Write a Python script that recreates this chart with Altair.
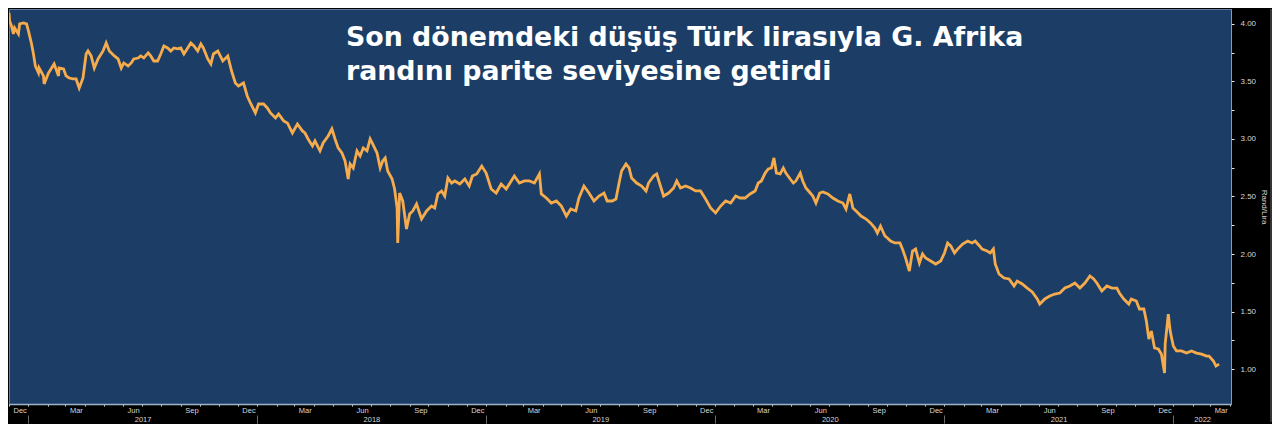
import altair as alt
import pandas as pd

dates = [
    "2016-12-01", "2016-12-02", "2016-12-05", "2016-12-08", "2016-12-10", "2016-12-16", "2016-12-18",
    "2016-12-24", "2016-12-29", "2017-01-01", "2017-01-06", "2017-01-09", "2017-01-12", "2017-01-17",
    "2017-01-18", "2017-01-25", "2017-01-26", "2017-02-02", "2017-02-06", "2017-02-11", "2017-02-18",
    "2017-02-19", "2017-02-26", "2017-03-02", "2017-03-07", "2017-03-13", "2017-03-18", "2017-03-23",
    "2017-03-29", "2017-04-03", "2017-04-06", "2017-04-11", "2017-04-16", "2017-04-22", "2017-04-30",
    "2017-05-05", "2017-05-10", "2017-05-18", "2017-05-24", "2017-05-29", "2017-06-02", "2017-06-09",
    "2017-06-14", "2017-06-18", "2017-06-25", "2017-06-29", "2017-07-04", "2017-07-11", "2017-07-15",
    "2017-07-20", "2017-07-26", "2017-07-31", "2017-08-05", "2017-08-11", "2017-08-16", "2017-08-21",
    "2017-08-27", "2017-09-01", "2017-09-06", "2017-09-12", "2017-09-17", "2017-09-22", "2017-09-28",
    "2017-10-03", "2017-10-07", "2017-10-14", "2017-10-19", "2017-10-23", "2017-10-30", "2017-11-07",
    "2017-11-15", "2017-11-21", "2017-11-27", "2017-12-02", "2017-12-10", "2017-12-16", "2017-12-21",
    "2017-12-29", "2018-01-03", "2018-01-11", "2018-01-17", "2018-01-22", "2018-01-30", "2018-02-04",
    "2018-02-12", "2018-02-18", "2018-02-26", "2018-03-06", "2018-03-14", "2018-03-18", "2018-03-23",
    "2018-03-30", "2018-04-03", "2018-04-11", "2018-04-16", "2018-04-24", "2018-04-30", "2018-05-05",
    "2018-05-10", "2018-05-16", "2018-05-21", "2018-05-26", "2018-05-29", "2018-06-03", "2018-06-09",
    "2018-06-14", "2018-06-19", "2018-06-25", "2018-06-30", "2018-07-04", "2018-07-11", "2018-07-16",
    "2018-07-20", "2018-07-24", "2018-07-28", "2018-08-04", "2018-08-08", "2018-08-12", "2018-08-13",
    "2018-08-16", "2018-08-21", "2018-08-27", "2018-09-01", "2018-09-06", "2018-09-12", "2018-09-20",
    "2018-09-28", "2018-10-06", "2018-10-11", "2018-10-16", "2018-10-22", "2018-10-27", "2018-11-01",
    "2018-11-07", "2018-11-12", "2018-11-20", "2018-11-28", "2018-12-05", "2018-12-10", "2018-12-17",
    "2018-12-25", "2019-01-01", "2019-01-09", "2019-01-17", "2019-01-25", "2019-02-02", "2019-02-10",
    "2019-02-15", "2019-02-23", "2019-03-03", "2019-03-11", "2019-03-19", "2019-03-27", "2019-03-30",
    "2019-04-07", "2019-04-15", "2019-04-23", "2019-05-01", "2019-05-09", "2019-05-16", "2019-05-24",
    "2019-05-29", "2019-06-06", "2019-06-14", "2019-06-22", "2019-06-30", "2019-07-08", "2019-07-13",
    "2019-07-21", "2019-07-27", "2019-08-01", "2019-08-05", "2019-08-12", "2019-08-17", "2019-08-21",
    "2019-08-29", "2019-09-06", "2019-09-13", "2019-09-17", "2019-09-25", "2019-09-30", "2019-10-06",
    "2019-10-11", "2019-10-19", "2019-10-27", "2019-11-01", "2019-11-07", "2019-11-15", "2019-11-23",
    "2019-12-01", "2019-12-09", "2019-12-17", "2019-12-25", "2020-01-02", "2020-01-10", "2020-01-18",
    "2020-01-26", "2020-02-03", "2020-02-10", "2020-02-18", "2020-02-26", "2020-03-05", "2020-03-10",
    "2020-03-15", "2020-03-21", "2020-03-26", "2020-03-31", "2020-04-04", "2020-04-08", "2020-04-14",
    "2020-04-19", "2020-04-23", "2020-04-30", "2020-05-05", "2020-05-09", "2020-05-16", "2020-05-20",
    "2020-05-25", "2020-06-01", "2020-06-05", "2020-06-10", "2020-06-16", "2020-06-21", "2020-06-29",
    "2020-07-07", "2020-07-15", "2020-07-23", "2020-07-28", "2020-08-03", "2020-08-08", "2020-08-13",
    "2020-08-21", "2020-08-29", "2020-09-05", "2020-09-12", "2020-09-16", "2020-09-21", "2020-09-28",
    "2020-10-02", "2020-10-07", "2020-10-14", "2020-10-22", "2020-10-26", "2020-10-31", "2020-11-06",
    "2020-11-11", "2020-11-16", "2020-11-22", "2020-11-27", "2020-12-02", "2020-12-10", "2020-12-18",
    "2020-12-26", "2021-01-01", "2021-01-06", "2021-01-11", "2021-01-17", "2021-01-22", "2021-01-30",
    "2021-02-07", "2021-02-14", "2021-02-19", "2021-02-26", "2021-03-02", "2021-03-10", "2021-03-15",
    "2021-03-20", "2021-03-23", "2021-03-29", "2021-04-06", "2021-04-14", "2021-04-22", "2021-04-27",
    "2021-05-05", "2021-05-13", "2021-05-21", "2021-05-29", "2021-06-02", "2021-06-10", "2021-06-18",
    "2021-06-26", "2021-07-04", "2021-07-12", "2021-07-20", "2021-07-28", "2021-08-05", "2021-08-13",
    "2021-08-21", "2021-08-27", "2021-09-01", "2021-09-09", "2021-09-17", "2021-09-25", "2021-10-03",
    "2021-10-07", "2021-10-14", "2021-10-22", "2021-10-26", "2021-11-03", "2021-11-08", "2021-11-15",
    "2021-11-19", "2021-11-23", "2021-11-27", "2021-12-02", "2021-12-08", "2021-12-13", "2021-12-18",
    "2021-12-19", "2021-12-24", "2021-12-27", "2022-01-01", "2022-01-06", "2022-01-14", "2022-01-22",
    "2022-01-30", "2022-02-07", "2022-02-15", "2022-02-23", "2022-02-27", "2022-03-06", "2022-03-10",
    "2022-03-15",
]

values = [
    4.096, 4.026, 3.983, 3.913, 3.965, 3.913, 4.000,
    4.009, 4.000, 3.939, 3.826, 3.739, 3.635, 3.574,
    3.617, 3.548, 3.478, 3.574, 3.609, 3.652, 3.548,
    3.617, 3.609, 3.548, 3.530, 3.522, 3.522, 3.443,
    3.530, 3.739, 3.765, 3.722, 3.617, 3.696, 3.765,
    3.835, 3.765, 3.722, 3.696, 3.617, 3.661, 3.635,
    3.661, 3.696, 3.704, 3.722, 3.704, 3.748, 3.722,
    3.678, 3.678, 3.739, 3.809, 3.791, 3.765, 3.791,
    3.783, 3.791, 3.739, 3.791, 3.835, 3.809, 3.765,
    3.826, 3.791, 3.696, 3.652, 3.739, 3.765, 3.678,
    3.722, 3.591, 3.487, 3.461, 3.487, 3.374, 3.313,
    3.226, 3.304, 3.304, 3.270, 3.226, 3.183, 3.217,
    3.157, 3.139, 3.052, 3.130, 3.070, 3.052, 3.000,
    2.939, 2.983, 2.896, 2.965, 3.026, 3.087, 3.000,
    2.922, 2.878, 2.809, 2.652, 2.783, 2.748, 2.896,
    2.852, 2.922, 2.896, 3.000, 2.957, 2.878, 2.748,
    2.809, 2.835, 2.722, 2.652, 2.565, 2.400, 2.096,
    2.530, 2.461, 2.217, 2.348, 2.374, 2.435, 2.304,
    2.374, 2.417, 2.400, 2.522, 2.548, 2.504, 2.661,
    2.617, 2.635, 2.609, 2.652, 2.591, 2.678, 2.696,
    2.765, 2.704, 2.565, 2.530, 2.609, 2.565, 2.635,
    2.678, 2.617, 2.635, 2.635, 2.617, 2.696, 2.522,
    2.487, 2.443, 2.461, 2.417, 2.330, 2.391, 2.374,
    2.487, 2.591, 2.530, 2.461, 2.504, 2.530, 2.461,
    2.461, 2.478, 2.617, 2.722, 2.783, 2.748, 2.661,
    2.617, 2.591, 2.548, 2.617, 2.678, 2.696, 2.591,
    2.504, 2.530, 2.574, 2.635, 2.574, 2.591, 2.574,
    2.548, 2.548, 2.478, 2.400, 2.357, 2.417, 2.461,
    2.443, 2.504, 2.487, 2.487, 2.522, 2.548, 2.617,
    2.635, 2.704, 2.739, 2.748, 2.835, 2.704, 2.696,
    2.748, 2.704, 2.652, 2.617, 2.635, 2.704, 2.635,
    2.574, 2.530, 2.504, 2.443, 2.530, 2.539, 2.522,
    2.487, 2.461, 2.443, 2.391, 2.522, 2.400, 2.374,
    2.330, 2.304, 2.270, 2.226, 2.183, 2.243, 2.157,
    2.139, 2.113, 2.096, 2.096, 2.043, 1.965, 1.852,
    2.026, 2.043, 1.922, 2.000, 1.965, 1.939, 1.913,
    1.939, 2.009, 2.096, 2.070, 2.009, 2.043, 2.087,
    2.113, 2.096, 2.113, 2.070, 2.043, 2.026, 2.009,
    2.043, 1.913, 1.826, 1.791, 1.783, 1.722, 1.765,
    1.740, 1.704, 1.670, 1.609, 1.565, 1.609, 1.635,
    1.652, 1.661, 1.704, 1.722, 1.748, 1.704, 1.748,
    1.809, 1.783, 1.748, 1.678, 1.722, 1.704, 1.704,
    1.661, 1.609, 1.565, 1.609, 1.591, 1.522, 1.522,
    1.417, 1.261, 1.330, 1.183, 1.174, 1.130, 0.965,
    1.217, 1.478, 1.330, 1.200, 1.157, 1.157, 1.139,
    1.157, 1.139, 1.130, 1.113, 1.113, 1.070, 1.026,
    1.043,
]

title_lines = ["Son dönemdeki düşüş Türk lirasıyla G. Afrika", "randını parite seviyesine getirdi"]
y_tick_values = [1.0, 1.25, 1.5, 1.75, 2.0, 2.25, 2.5, 2.75, 3.0, 3.25, 3.5, 3.75, 4.0]
year_label_dates = [
    alt.DateTime(year=2017, month=7, date=2, utc=True),
    alt.DateTime(year=2018, month=7, date=2, utc=True),
    alt.DateTime(year=2019, month=7, date=2, utc=True),
    alt.DateTime(year=2020, month=7, date=2, utc=True),
    alt.DateTime(year=2021, month=7, date=2, utc=True),
    alt.DateTime(year=2022, month=2, date=16, utc=True),
]
y_title = "Rand/Lira"

df = pd.DataFrame({"date": dates, "value": values})

W, H = 1222, 395
LABEL_COLOR = "#d6d6d6"

x_scale = alt.Scale(
    type="utc",
    domain=[alt.DateTime(year=2016, month=12, date=1, utc=True),
            alt.DateTime(year=2022, month=4, date=3, utc=True)],
    nice=False,
)
y_scale = alt.Scale(domain=[0.696, 4.13], nice=False, zero=False)

month_axis = alt.Axis(
    orient="bottom", title=None, grid=False,
    tickCount={"interval": "month", "step": 1},
    labelExpr="utcmonth(datum.value) % 3 == 2 ? utcFormat(datum.value, '%b') : ''",
    labelAlign="left", labelOffset=4, labelPadding=0, labelFlush=False, labelOverlap=False,
    labelFont="Liberation Sans", labelFontSize=7.5, labelColor=LABEL_COLOR,
    tickSize=2, tickColor="#c9d6e6", domainColor="#9fb4cc", domainWidth=1.5,
)

year_axis = alt.Axis(
    orient="bottom", title=None, grid=False, values=year_label_dates,
    labelExpr="utcFormat(datum.value, '%Y')",
    ticks=False, domain=False, labelPadding=11, labelFlush=False, labelOverlap=False,
    labelAlign="center", labelFont="Liberation Sans", labelFontSize=7.5, labelColor=LABEL_COLOR,
)

sep_axis = alt.Axis(
    orient="bottom", title=None, grid=False, labels=False, domain=False,
    tickCount={"interval": "year", "step": 1},
    offset=11, tickSize=8, tickColor="#6a6a6a", tickWidth=1,
)

y_axis = alt.Axis(
    orient="right", values=y_tick_values, grid=False,
    labelExpr="datum.value % 0.5 == 0 ? format(datum.value, '.2f') : ''",
    labelFont="Liberation Sans", labelFontSize=8, labelColor=LABEL_COLOR, labelPadding=6,
    tickSize=3, tickColor="#e6e6e6", domainColor="#7f9cc0",
    title=y_title, titleFont="Liberation Sans", titleFontSize=8, titleFontWeight="normal",
    titleColor=LABEL_COLOR, titlePadding=4, titleAngle=90,
)

line = alt.Chart(df).mark_line(color="#f6ab4c", strokeWidth=2.8, clip=True).encode(
    x=alt.X("date:T", scale=x_scale, axis=month_axis),
    y=alt.Y("value:Q", scale=y_scale, axis=y_axis),
)

years = alt.Chart(df).mark_line(strokeOpacity=0).encode(
    x=alt.X("date:T", scale=x_scale, axis=year_axis),
    y=alt.Y("value:Q", scale=y_scale, axis=None),
)

seps = alt.Chart(df).mark_line(strokeOpacity=0).encode(
    x=alt.X("date:T", scale=x_scale, axis=sep_axis),
    y=alt.Y("value:Q", scale=y_scale, axis=None),
)

title_df = pd.DataFrame({"t": ["\n".join(title_lines)]})
title = alt.Chart(title_df).mark_text(
    align="left", baseline="alphabetic", lineBreak="\n", lineHeight=34,
    font="DejaVu Sans", fontWeight="bold", fontSize=26.8, color="#ffffff",
).encode(x=alt.value(337), y=alt.value(37), text="t:N")

edge = alt.Chart(pd.DataFrame({"k": [0]})).mark_rule(color="#6b6b6b", strokeWidth=1, clip=False).encode(
    x=alt.value(1262), y=alt.value(0), y2=alt.value(413),
)

chart = (
    alt.layer(line, years, seps, title, edge)
    .resolve_axis(x="independent", y="independent")
    .properties(width=W, height=H, background="#000000", padding=0)
    .configure_view(fill="#1c3e66", stroke="#5f7fa6", strokeWidth=1)
)

chart.save("out.html", embed_options={"renderer": "svg", "actions": False})
